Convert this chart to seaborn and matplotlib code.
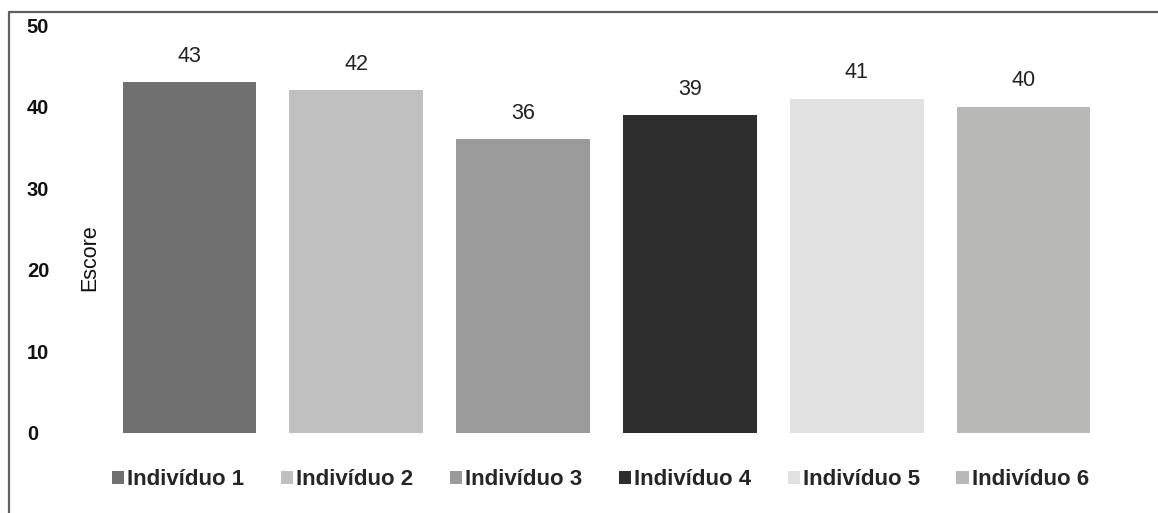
import matplotlib
matplotlib.use("Agg")
import matplotlib.pyplot as plt
from matplotlib.lines import Line2D
import pandas as pd
import seaborn as sns

# Chart data
individuals = ["Indivíduo 1", "Indivíduo 2", "Indivíduo 3",
               "Indivíduo 4", "Indivíduo 5", "Indivíduo 6"]
scores = [43, 42, 36, 39, 41, 40]
bar_colors = ["#707070", "#c0c0c0", "#9b9b9b", "#2d2d2d", "#e1e2e1", "#b8b8b7"]
y_ticks = [0, 10, 20, 30, 40, 50]

sns.set_theme(style="white")
plt.rcParams["font.family"] = ["Liberation Sans", "DejaVu Sans"]

df = pd.DataFrame({"individuo": individuals, "escore": scores})

fig = plt.figure(figsize=(11.58, 5.13), dpi=100)
ax = fig.add_axes([0.0915, 0.156, 0.8645, 0.795])

sns.barplot(data=df, x="individuo", y="escore", hue="individuo",
            palette=bar_colors, width=0.8, saturation=1, legend=True,
            edgecolor="none", ax=ax)

# value on top of each bar
for container in ax.containers:
    ax.bar_label(container, fmt="%d", padding=11, fontsize=15.5, color="#222222")

ax.set_ylim(0, 50)
ax.set_yticks(y_ticks)
ax.set_xlim(-0.5, 5.5)
ax.set_xticks([])
ax.set_xlabel("")
ax.set_ylabel("Escore", fontsize=15.5, color="#111111")
ax.yaxis.set_label_coords(-0.006, 0.43)
for lbl in ax.get_yticklabels():
    lbl.set_fontweight("bold")
    lbl.set_fontsize(14.5)
    lbl.set_horizontalalignment("left")
ax.tick_params(axis="y", length=0, pad=57, labelcolor="#111111")
sns.despine(ax=ax, left=True, bottom=True)

sns.move_legend(ax, "center", bbox_to_anchor=(0.494, -0.115), ncol=6,
                frameon=False, title=None, handlelength=0.55, handleheight=0.55,
                handletextpad=0.15, columnspacing=1.63,
                prop={"weight": "bold", "size": 16})

# outer frame (top and left edges only)
fig.add_artist(Line2D([9 / 1158, 1], [1 - 12 / 513, 1 - 12 / 513],
                      color="#606060", lw=1.6, transform=fig.transFigure))
fig.add_artist(Line2D([9 / 1158, 9 / 1158], [0, 1 - 12 / 513],
                      color="#606060", lw=1.6, transform=fig.transFigure))

fig.savefig("out.png", dpi=100)
